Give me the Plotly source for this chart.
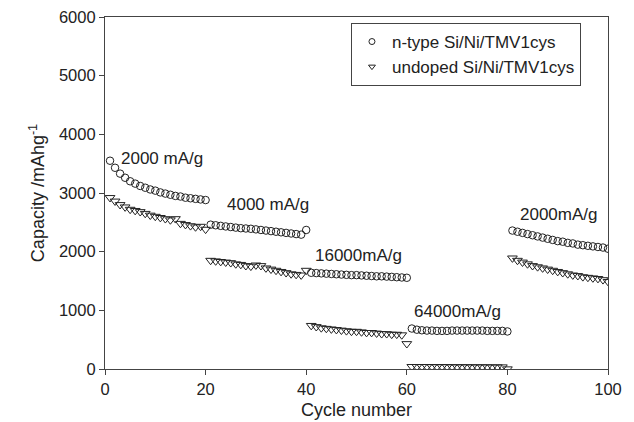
import plotly.graph_objects as go

cycles = list(range(1, 101))

ntype = [3550, 3430, 3330, 3260, 3200, 3160, 3120, 3090, 3060, 3040,
         3010, 2990, 2970, 2950, 2940, 2920, 2910, 2900, 2890, 2880,
         2460, 2450, 2440, 2430, 2420, 2410, 2400, 2395, 2390, 2380,
         2370, 2360, 2350, 2340, 2330, 2320, 2310, 2300, 2290, 2370,
         1640, 1635, 1630, 1625, 1620, 1615, 1610, 1605, 1600, 1600,
         1595, 1590, 1585, 1580, 1580, 1575, 1570, 1565, 1560, 1555,
         690, 670, 660, 655, 655, 650, 650, 650, 655, 655,
         655, 655, 655, 655, 655, 650, 650, 650, 650, 640,
         2360, 2340, 2320, 2300, 2280, 2260, 2240, 2220, 2200, 2180,
         2170, 2150, 2140, 2120, 2110, 2100, 2090, 2080, 2070, 2050]

undoped = [2920, 2860, 2800, 2760, 2720, 2700, 2680, 2650, 2620, 2600,
           2580, 2560, 2540, 2560, 2480, 2460, 2440, 2420, 2430, 2380,
           1850, 1840, 1830, 1820, 1810, 1790, 1780, 1760, 1750, 1770,
           1760, 1720, 1700, 1680, 1660, 1640, 1620, 1610, 1600, 1680,
           740, 720, 700, 690, 680, 670, 660, 650, 640, 640,
           630, 620, 620, 610, 600, 600, 590, 590, 580, 430,
           40, 40, 40, 40, 38, 38, 38, 38, 36, 36,
           36, 36, 35, 35, 35, 35, 34, 34, 34, 0,
           1890, 1850, 1820, 1790, 1760, 1740, 1720, 1700, 1680, 1660,
           1640, 1620, 1600, 1590, 1570, 1560, 1550, 1540, 1520, 1490]

series_names = ["n-type Si/Ni/TMV1cys", "undoped Si/Ni/TMV1cys"]

labels = ["2000 mA/g", "4000 mA/g", "16000mA/g", "64000mA/g", "2000mA/g"]
label_x = [11.3, 32.4, 50.3, 70.0, 90.3]
label_y = [3595, 2811, 1942, 988, 2640]

font = "Liberation Sans, Arial, sans-serif"
ink = "#222222"
axc = "#444444"
# page body has an 8px default margin; compensate so the plot area lands where the reference has it
off = 8

fig = go.Figure()
fig.add_trace(go.Scatter(
    x=cycles, y=ntype, mode="markers", name=series_names[0], showlegend=False,
    marker=dict(symbol="circle-open", size=7.5, color=ink, line=dict(width=1, color=ink))))
fig.add_trace(go.Scatter(
    x=cycles, y=undoped, mode="markers", name=series_names[1], showlegend=False,
    marker=dict(symbol="triangle-down-open", size=8.5, color=ink, line=dict(width=1, color=ink))))
# legend entries with the small symbols of the reference
fig.add_trace(go.Scatter(
    x=[None], y=[None], mode="markers", name=series_names[0],
    marker=dict(symbol="circle-open", size=6, color=ink, line=dict(width=1, color=ink))))
fig.add_trace(go.Scatter(
    x=[None], y=[None], mode="markers", name=series_names[1],
    marker=dict(symbol="triangle-down-open", size=6, color=ink, line=dict(width=1, color=ink))))

for t, xx, yy in zip(labels, label_x, label_y):
    fig.add_annotation(x=xx, y=yy, text=t, showarrow=False,
                       font=dict(family=font, size=17, color=ink))

fig.update_layout(
    width=634, height=422,
    margin=dict(l=105 - off, r=26 + off, t=17 - off, b=53 + off),
    paper_bgcolor="white", plot_bgcolor="white",
    font=dict(family=font, size=16.5, color=ink),
    showlegend=True,
    legend=dict(x=0.489, y=0.983, xanchor="left", yanchor="top",
                bordercolor=axc, borderwidth=1, bgcolor="white",
                font=dict(family=font, size=17, color=ink),
                itemsizing="trace", tracegroupgap=0),
    xaxis=dict(range=[0, 100], tickvals=[0, 20, 40, 60, 80, 100],
               showgrid=False, zeroline=False, showline=True, mirror=True,
               linecolor=axc, linewidth=1.2, ticks="outside", ticklen=5,
               tickcolor=axc, automargin=False,
               title=dict(text="Cycle number", font=dict(family=font, size=18, color=ink), standoff=6)),
    yaxis=dict(range=[0, 6000], tickvals=[0, 1000, 2000, 3000, 4000, 5000, 6000],
               showgrid=False, zeroline=False, showline=True, mirror=True,
               linecolor=axc, linewidth=1.2, ticks="outside", ticklen=5,
               tickcolor=axc, ticklabeloverflow="allow", automargin=False,
               title=dict(text="Capacity /mAhg<sup>-1</sup>", font=dict(family=font, size=18, color=ink), standoff=9)),
)

fig.write_html("out.html")
